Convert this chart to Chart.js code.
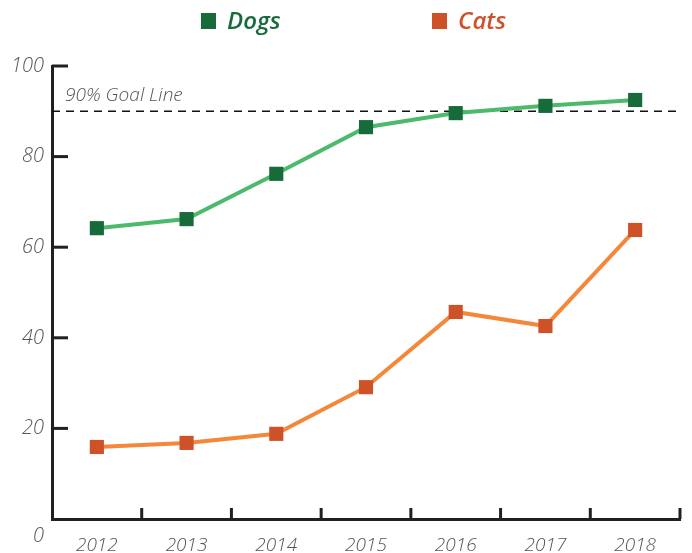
<!DOCTYPE html>
<html>
<head>
<meta charset="utf-8">
<script src="https://cdn.jsdelivr.net/npm/chart.js@4.4.1/dist/chart.umd.min.js"></script>
<style>
  body { margin: 0; background: #fff; }
  #wrap { width: 692px; height: 553px; }
</style>
</head>
<body>
<div id="wrap"><canvas id="petChart" width="692" height="553"></canvas></div>
<script>
// data
const years = ['2012', '2013', '2014', '2015', '2016', '2017', '2018'];
const dogs = [64.2, 66.2, 76.2, 86.5, 89.6, 91.2, 92.5];
const cats = [15.9, 16.8, 18.8, 29.1, 45.7, 42.6, 63.8];
const goalValue = 90;
const goalLabel = '90% Goal Line';
const yTicks = [0, 20, 40, 60, 80, 100];

const axisColor = '#231f20';
const labelColor = '#555555';
const fontFamily = '"Open Sans", sans-serif';

// goal line, legend, inward tick marks and the lowered "0" label
const extrasPlugin = {
    id: 'extras',
    beforeDatasetsDraw(chart) {
        const ctx = chart.ctx;
        const area = chart.chartArea;
        const y = chart.scales.y;
        const gy = y.getPixelForValue(goalValue);
        ctx.save();
        ctx.strokeStyle = '#111';
        ctx.lineWidth = 1.5;
        ctx.setLineDash([8, 6]);
        ctx.beginPath();
        ctx.moveTo(area.left, gy);
        ctx.lineTo(area.right, gy);
        ctx.stroke();
        ctx.setLineDash([]);
        ctx.font = 'italic 300 19px ' + fontFamily;
        ctx.fillStyle = labelColor;
        ctx.textBaseline = 'alphabetic';
        ctx.fillText(goalLabel, area.left + 13, gy - 10);
        ctx.restore();
    },
    afterDraw(chart) {
        const ctx = chart.ctx;
        const area = chart.chartArea;
        const x = chart.scales.x;
        const y = chart.scales.y;
        ctx.save();
        ctx.strokeStyle = axisColor;
        ctx.lineWidth = 3;
        yTicks.forEach(v => {
            if (v === 0) return;
            const py = y.getPixelForValue(v);
            ctx.beginPath();
            ctx.moveTo(area.left, py);
            ctx.lineTo(area.left + 16, py);
            ctx.stroke();
        });
        for (let i = 1; i <= years.length; i++) {
            const px = x.getPixelForValue(i - 0.5);
            ctx.beginPath();
            ctx.moveTo(px, area.bottom);
            ctx.lineTo(px, area.bottom - 11);
            ctx.stroke();
        }
        ctx.font = 'italic 300 20px ' + fontFamily;
        ctx.fillStyle = labelColor;
        ctx.textAlign = 'right';
        ctx.textBaseline = 'middle';
        ctx.fillText('0', area.left - 8, area.bottom + 17);

        // legend
        const legendX = [201, 432];
        ctx.textAlign = 'left';
        ctx.font = 'italic 600 24px ' + fontFamily;
        chart.data.datasets.forEach((ds, i) => {
            ctx.fillStyle = ds.backgroundColor;
            ctx.fillRect(legendX[i], 13, 15, 16);
            ctx.fillText(ds.label, legendX[i] + 26, 22);
        });
        ctx.restore();
    }
};

function initializeChart()
{
    const ctx = document.getElementById('petChart').getContext('2d');
    new Chart(ctx, {
        type: 'line',
        data: {
            labels: years,
            datasets: [{
                label: 'Dogs',
                data: dogs,
                borderColor: '#4cb96b',
                backgroundColor: '#176b3b',
                pointBackgroundColor: '#176b3b',
                pointBorderWidth: 0,
                pointStyle: 'rect',
                pointRadius: 10,
                borderWidth: 4,
                tension: 0
            }, {
                label: 'Cats',
                data: cats,
                borderColor: '#f5873a',
                backgroundColor: '#cf5128',
                pointBackgroundColor: '#cf5128',
                pointBorderWidth: 0,
                pointStyle: 'rect',
                pointRadius: 10,
                borderWidth: 4,
                tension: 0
            }]
        },
        options: {
            responsive: false,
            animation: false,
            devicePixelRatio: 1,
            layout: { padding: { left: 0, right: 12, top: 66, bottom: 0 } },
            plugins: {
                tooltip: { enabled: false },
                legend: { display: false }
            },
            scales: {
                x: {
                    offset: true,
                    grid: { display: false, drawTicks: false },
                    border: { display: true, color: axisColor, width: 3 },
                    ticks: {
                        color: labelColor,
                        padding: 15,
                        font: { family: fontFamily, size: 19, style: 'italic', weight: '300' }
                    },
                    afterFit(scale) { scale.height = 34; }
                },
                y: {
                    min: 0,
                    max: 100,
                    grid: { display: false, drawTicks: false },
                    border: { display: true, color: axisColor, width: 3 },
                    ticks: {
                        stepSize: 20,
                        color: labelColor,
                        padding: 8,
                        font: { family: fontFamily, size: 20, style: 'italic', weight: '300' },
                        callback: v => (v === 0 ? '' : v)
                    },
                    afterFit(scale) { scale.width = 52; }
                }
            }
        },
        plugins: [extrasPlugin]
    });
}

window.onload = initializeChart;
</script>
</body>
</html>
